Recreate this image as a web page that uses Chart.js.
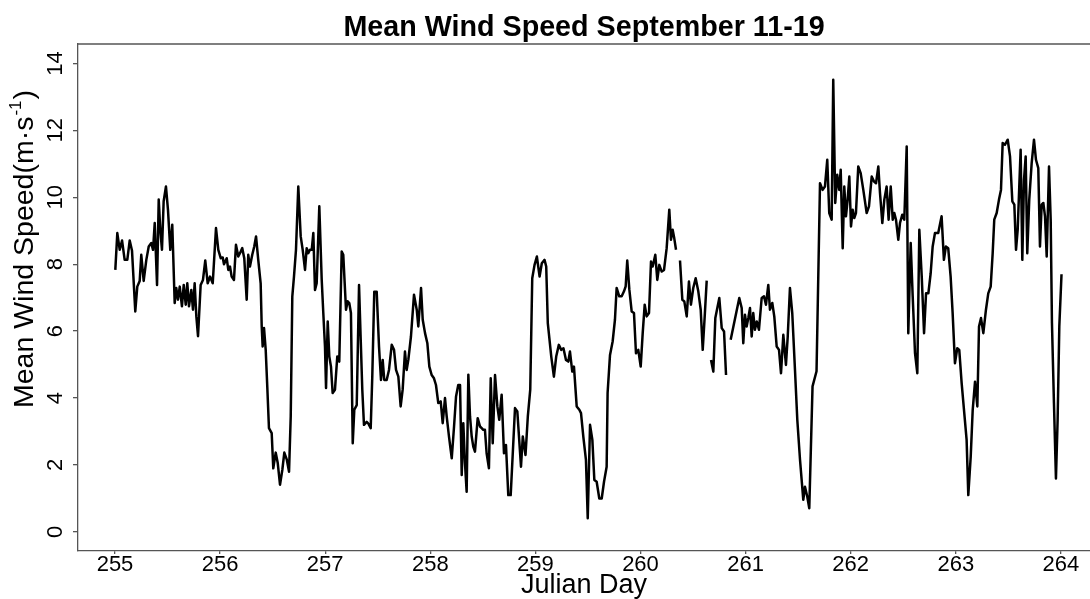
<!DOCTYPE html>
<html>
<head>
<meta charset="utf-8">
<title>Mean Wind Speed September 11-19</title>
<script src="https://cdn.jsdelivr.net/npm/chart.js@4.4.1/dist/chart.umd.min.js"></script>
<style>
  html, body { margin: 0; padding: 0; background: #fff; }
  #wrap { width: 1090px; height: 599px; }
</style>
</head>
<body>
<div id="wrap"><canvas id="wind"></canvas></div>
<script>
// Mean wind speed (m/s) against Julian day.
// Each pair is [julian day, speed]; null speed = missing record (gap).
const day255 = [
  [255.003,7.83],[255.022,8.93],[255.045,8.43],[255.067,8.71],[255.092,8.13],[255.117,8.13],
  [255.140,8.71],[255.162,8.40],[255.193,6.59],[255.212,7.33],[255.235,7.50],[255.250,8.28],
  [255.273,7.50],[255.298,8.13],[255.321,8.53],[255.345,8.63],[255.362,8.43],[255.378,9.23],
  [255.400,7.38],[255.416,9.93],[255.431,9.03],[255.447,8.43],[255.463,9.88],[255.485,10.32],
  [255.504,9.63],[255.526,8.43],[255.545,9.18],[255.568,6.84],[255.583,7.29],[255.599,6.94],
  [255.616,7.33],[255.637,6.74],[255.654,7.38],[255.673,6.79],[255.688,7.43],[255.704,6.74],
  [255.726,7.23],[255.742,6.64],[255.758,7.43],[255.774,6.44],[255.790,5.85],[255.815,7.38],
  [255.837,7.53],[255.859,8.11],[255.882,7.43],[255.904,7.63],[255.930,7.43],[255.961,9.08],
  [255.983,8.43]
];
const day256 = [
  [256.006,8.18],[256.025,8.20],[256.037,8.00],[256.063,8.18],[256.078,7.83],[256.094,7.93],
  [256.110,7.63],[256.132,7.53],[256.151,8.58],[256.173,8.23],[256.189,8.33],[256.211,8.48],
  [256.230,8.18],[256.253,6.94],[256.268,8.28],[256.284,7.93],[256.306,8.28],[256.325,8.53],
  [256.342,8.83],[256.363,8.13],[256.386,7.43],[256.396,6.14],[256.405,5.54],[256.418,6.09],
  [256.434,5.44],[256.449,4.34],[256.465,3.10],[256.491,2.95],[256.506,1.90],[256.529,2.37],
  [256.548,2.07],[256.570,1.41],[256.592,1.85],[256.611,2.37],[256.634,2.17],[256.656,1.80],
  [256.672,3.45],[256.687,7.03],[256.703,7.63],[256.722,8.43],[256.744,10.32],[256.767,8.83],
  [256.786,8.43],[256.808,7.83],[256.824,8.48],[256.839,8.33],[256.855,8.43],[256.872,8.43],
  [256.887,8.93],[256.903,7.23],[256.919,7.43],[256.944,9.73],[256.967,7.53],[256.982,6.54],
  [256.998,5.54]
];
const day257 = [
  [257.008,4.30],[257.024,6.29],[257.039,5.24],[257.055,4.94],[257.071,4.15],[257.093,4.25],
  [257.115,5.24],[257.134,5.09],[257.157,8.38],[257.172,8.28],[257.198,6.64],[257.214,6.89],
  [257.229,6.84],[257.245,6.54],[257.262,2.65],[257.277,3.65],[257.300,3.79],[257.322,7.38],
  [257.338,5.74],[257.353,4.25],[257.369,3.20],[257.395,3.29],[257.410,3.24],[257.433,3.10],
  [257.448,4.64],[257.467,7.18],[257.490,7.18],[257.512,5.54],[257.531,4.54],[257.547,5.14],
  [257.562,4.54],[257.585,4.54],[257.607,4.84],[257.633,5.59],[257.655,5.44],[257.674,4.84],
  [257.696,4.64],[257.718,3.75],[257.737,4.25],[257.759,5.39],[257.775,4.84],[257.791,5.14],
  [257.816,5.84],[257.845,7.09],[257.871,6.64],[257.886,6.14],[257.912,7.29],[257.928,6.34],
  [257.950,5.94],[257.972,5.64],[257.991,4.94]
];
const day258 = [
  [258.013,4.69],[258.035,4.59],[258.054,4.39],[258.076,3.85],[258.099,3.90],[258.118,3.25],
  [258.140,4.00],[258.156,3.45],[258.178,2.85],[258.204,2.20],[258.226,3.15],[258.245,4.05],
  [258.266,4.39],[258.283,4.39],[258.299,1.70],[258.314,3.25],[258.330,2.05],[258.346,1.20],
  [258.362,4.70],[258.378,3.45],[258.394,2.85],[258.409,2.55],[258.425,2.40],[258.451,3.40],
  [258.473,3.15],[258.489,3.10],[258.504,3.05],[258.520,3.05],[258.536,2.35],[258.558,1.90],
  [258.575,4.59],[258.594,2.65],[258.616,4.69],[258.638,3.75],[258.656,3.35],[258.679,4.10],
  [258.701,2.35],[258.720,2.60],[258.742,1.10],[258.765,1.10],[258.784,2.30],[258.806,3.70],
  [258.828,3.60],[258.863,1.95],[258.880,2.85],[258.906,2.30],[258.928,3.45],[258.951,4.25],
  [258.970,7.58],[258.992,7.98]
];
const day259 = [
  [259.014,8.23],[259.040,7.63],[259.061,8.03],[259.087,8.13],[259.103,7.93],[259.118,6.24],
  [259.151,5.24],[259.176,4.64],[259.198,5.24],[259.223,5.59],[259.246,5.44],[259.267,5.49],
  [259.291,5.14],[259.313,5.09],[259.329,5.39],[259.351,4.79],[259.367,4.94],[259.393,3.75],
  [259.418,3.65],[259.434,3.55],[259.456,2.85],[259.481,2.15],[259.498,0.41],[259.520,3.20],
  [259.542,2.75],[259.561,1.55],[259.583,1.50],[259.608,1.00],[259.631,1.00],[259.653,1.50],
  [259.678,1.95],[259.687,4.15],[259.710,5.29],[259.735,5.69],[259.757,6.34],[259.773,7.29],
  [259.798,7.04],[259.821,7.04],[259.843,7.19],[259.859,7.34],[259.874,8.11],[259.894,7.24],
  [259.916,6.59],[259.938,6.54],[259.957,5.34],[259.979,5.44]
];
const day260 = [
  [260.002,4.94],[260.021,5.94],[260.040,6.79],[260.059,6.44],[260.081,6.54],[260.100,8.08],
  [260.116,7.93],[260.141,8.28],[260.160,7.53],[260.179,7.98],[260.202,7.78],[260.224,7.83],
  [260.249,8.48],[260.274,9.63],[260.290,8.73],[260.306,9.03],[260.321,8.78],[260.338,8.43],
  [260.355,null],
  [260.376,8.11],[260.398,6.94],[260.417,6.89],[260.440,6.44],[260.461,7.48],[260.480,6.79],
  [260.502,7.29],[260.525,7.58],[260.550,7.19],[260.573,6.64],[260.592,5.44],[260.611,6.44],
  [260.630,7.51],
  [260.650,null],
  [260.671,5.14],[260.693,4.79],[260.712,6.39],[260.731,6.69],[260.750,6.99],[260.773,6.09],
  [260.795,5.99],[260.814,4.69],
  [260.836,null],
  [260.858,5.74],[260.940,6.99],[260.963,6.69],[260.978,5.64],[260.994,6.49]
];
const day261 = [
  [261.010,6.14],[261.026,6.39],[261.042,6.69],[261.058,5.84],[261.073,6.54],[261.089,6.04],
  [261.106,6.29],[261.127,6.04],[261.153,6.99],[261.175,7.04],[261.194,6.79],[261.216,7.38],
  [261.232,6.64],[261.254,6.84],[261.273,6.44],[261.296,5.54],[261.318,5.44],[261.337,4.74],
  [261.359,5.89],[261.384,4.99],[261.401,5.84],[261.422,7.29],[261.444,6.54],[261.470,4.84],
  [261.492,3.35],[261.518,2.15],[261.549,0.96],[261.565,1.35],[261.587,1.05],[261.606,0.71],
  [261.637,4.35],[261.675,4.80],[261.708,10.42],[261.733,10.22],[261.755,10.32],[261.777,11.12],
  [261.796,9.53],[261.819,9.33],[261.834,13.51],[261.853,9.83],[261.872,10.67],[261.891,10.22],
  [261.905,10.82],[261.924,8.48],[261.939,10.32],[261.955,9.43],[261.971,9.93],[261.987,10.62]
];
const day262 = [
  [262.003,9.13],[262.019,9.63],[262.034,9.38],[262.050,9.53],[262.072,10.92],[262.095,10.72],
  [262.120,10.22],[262.152,9.53],[262.174,9.73],[262.200,10.62],[262.222,10.47],[262.241,10.42],
  [262.263,10.92],[262.279,10.12],[262.301,9.23],[262.320,9.93],[262.342,10.32],[262.361,9.33],
  [262.381,10.32],[262.400,9.33],[262.415,9.53],[262.431,9.33],[262.453,8.73],[262.469,9.23],
  [262.491,9.48],[262.510,9.33],[262.533,11.52],[262.548,5.94],[262.571,8.63],[262.590,7.04],
  [262.612,5.34],[262.634,4.74],[262.653,9.03],[262.676,7.63],[262.698,5.94],[262.717,7.13],
  [262.739,7.13],[262.761,7.73],[262.780,8.53],[262.802,8.93],[262.833,8.93],[262.865,9.43],
  [262.887,8.13],[262.906,8.53],[262.928,8.48],[262.951,7.63],[262.970,6.54],[262.992,5.04]
];
const day263 = [
  [263.014,5.49],[263.033,5.44],[263.056,4.44],[263.078,3.65],[263.103,2.75],[263.119,1.10],
  [263.142,2.25],[263.161,3.65],[263.183,4.49],[263.205,3.75],[263.221,6.14],[263.240,6.39],
  [263.262,5.94],[263.287,6.64],[263.309,7.13],[263.332,7.33],[263.351,8.33],[263.366,9.33],
  [263.389,9.53],[263.411,9.93],[263.430,10.22],[263.446,11.62],[263.468,11.57],[263.494,11.72],
  [263.516,11.22],[263.538,9.88],[263.557,9.78],[263.573,8.43],[263.589,9.03],[263.604,10.32],
  [263.617,11.42],[263.633,8.13],[263.649,10.52],[263.665,11.22],[263.680,8.33],[263.699,9.93],
  [263.722,11.02],[263.744,11.72],[263.763,11.12],[263.785,10.87],[263.801,8.53],[263.817,9.78],
  [263.833,9.83],[263.849,9.43],[263.865,8.23],[263.887,10.92],[263.903,9.33],[263.915,6.24],
  [263.934,3.85],[263.953,1.60],[263.969,3.35],[263.985,6.14]
];
const day264 = [
  [264.006,7.70]
];

const dayTicks   = [255, 256, 257, 258, 259, 260, 261, 262, 263, 264];
const speedTicks = [0, 2, 4, 6, 8, 10, 12, 14];

const X_MIN = 254.648, X_MAX = 264.277;
const Y_MIN = -0.57,   Y_MAX = 14.58;

const FONT = "'Liberation Sans', Arial, sans-serif";
const AXIS_GREY = "#555";

const points = [].concat(day255, day256, day257, day258, day259,
                         day260, day261, day262, day263, day264)
  .map(([d, v]) => ({ x: d, y: v }));

// top frame line, and the y title with its superscript
const framePlugin = {
  id: "frame",
  afterDraw(chart) {
    const { ctx, chartArea: a } = chart;
    ctx.save();
    ctx.strokeStyle = AXIS_GREY;
    ctx.lineWidth = 1.3;
    ctx.beginPath();
    ctx.moveTo(a.left, a.top);
    ctx.lineTo(chart.width, a.top);
    ctx.stroke();

    ctx.translate(33, 408);
    ctx.rotate(-Math.PI / 2);
    ctx.fillStyle = "#000";
    ctx.textAlign = "left";
    ctx.textBaseline = "alphabetic";
    ctx.font = `28.5px ${FONT}`;
    const main = "Mean Wind Speed(m\u00B7s";
    ctx.fillText(main, 0, 0);
    let w = ctx.measureText(main).width;
    ctx.font = `17px ${FONT}`;
    ctx.fillText("-1", w + 1, -12);
    w += 1 + ctx.measureText("-1").width + 1;
    ctx.font = `28.5px ${FONT}`;
    ctx.fillText(")", w, 0);
    ctx.restore();
  }
};

new Chart(document.getElementById("wind"), {
  type: "line",
  data: {
    datasets: [{
      label: "Mean Wind Speed",
      data: points,
      borderColor: "#000",
      borderWidth: 2.5,
      borderJoinStyle: "round",
      pointRadius: 0,
      tension: 0,
      spanGaps: false
    }]
  },
  plugins: [framePlugin],
  options: {
    responsive: true,
    maintainAspectRatio: false,
    animation: false,
    layout: { padding: { top: 0, right: 0, bottom: 0, left: 0 } },
    plugins: {
      legend: { display: false },
      tooltip: { enabled: false },
      title: {
        display: true,
        text: "Mean Wind Speed September 11-19",
        color: "#000",
        fullSize: false,
        font: { family: FONT, size: 28.7, weight: "bold", lineHeight: 1 },
        padding: { top: 14, bottom: 1.3 }
      }
    },
    scales: {
      x: {
        type: "linear",
        min: X_MIN,
        max: X_MAX,
        afterBuildTicks: s => { s.ticks = dayTicks.map(v => ({ value: v })); },
        afterFit: s => { s.height = 48; },
        grid: { drawOnChartArea: false, drawTicks: true, tickLength: 3, color: AXIS_GREY, lineWidth: 1.3 },
        border: { color: AXIS_GREY, width: 1.3 },
        ticks: {
          color: "#000",
          font: { family: FONT, size: 22, lineHeight: 1 },
          padding: 0,
          autoSkip: false,
          maxRotation: 0
        },
        title: {
          display: true,
          text: "Julian Day",
          color: "#000",
          font: { family: FONT, size: 27, lineHeight: 1 },
          padding: 0
        }
      },
      y: {
        type: "linear",
        min: Y_MIN,
        max: Y_MAX,
        afterBuildTicks: s => { s.ticks = speedTicks.map(v => ({ value: v })); },
        afterFit: s => { s.width = 78; },
        grid: { drawOnChartArea: false, drawTicks: true, tickLength: 5, color: AXIS_GREY, lineWidth: 1.3 },
        border: { color: AXIS_GREY, width: 1.3 },
        ticks: {
          color: "#000",
          font: { family: FONT, size: 22 },
          padding: 5,
          autoSkip: false,
          minRotation: 90,
          maxRotation: 90,
          crossAlign: "center"
        },
        title: { display: false }
      }
    }
  }
});
</script>
</body>
</html>
